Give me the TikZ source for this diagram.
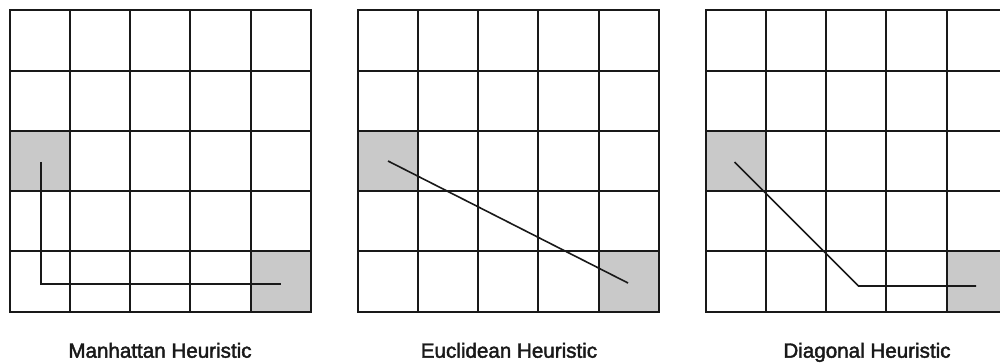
\documentclass[tikz,border=0pt]{standalone}
\usepackage{fontspec}
\setmainfont{Liberation Sans}
\newfontfamily\heurfont[FakeBold=2]{Liberation Sans}
\begin{document}
\begin{tikzpicture}[x=1pt,y=-1pt,
  gridline/.style={line width=2pt, black!90, line cap=rect},
  pathline/.style={line width=1.6pt, black!90},
  cellfill/.style={fill=black!21},
  heurlabel/.style={font=\heurfont\fontsize{20.6}{25}\selectfont, anchor=base, inner sep=0pt, text=black!90}]
\useasboundingbox (0,0) rectangle (1000,363);
\clip (0,0) rectangle (1000,363);
\foreach \k in {0,1,2}{
  \begin{scope}[shift={({9.7+348*\k},10.5)}]
    \fill[cellfill] (0,120.4) rectangle (60.2,180.6);
    \fill[cellfill] (240.8,240.8) rectangle (301,301);
    \foreach \i in {0,...,5}{
      \draw[gridline] ({\i*60.2},0) -- ({\i*60.2},301);
      \draw[gridline] (0,{\i*60.2}) -- (301,{\i*60.2});
    }
  \end{scope}
}
% Manhattan
\coordinate (m1) at (41,162);
\coordinate (m2) at (41,284);
\coordinate (m3) at (281,284);
\draw[pathline] (m1) -- (m2) -- (m3);
% Euclidean
\coordinate (e1) at (388,161);
\coordinate (e2) at (628,283);
\draw[pathline] (e1) -- (e2);
% Diagonal
\coordinate (d1) at (734.5,162);
\coordinate (d2) at (858.5,286);
\coordinate (d3) at (976,286);
\draw[pathline] (d1) -- (d2) -- (d3);
% labels
\node[heurlabel] (l1) at (160,357.7) {Manhattan Heuristic};
\node[heurlabel] (l2) at (509,357.7) {Euclidean Heuristic};
\node[heurlabel] (l3) at (867,357.7) {Diagonal Heuristic};
\end{tikzpicture}
\end{document}
